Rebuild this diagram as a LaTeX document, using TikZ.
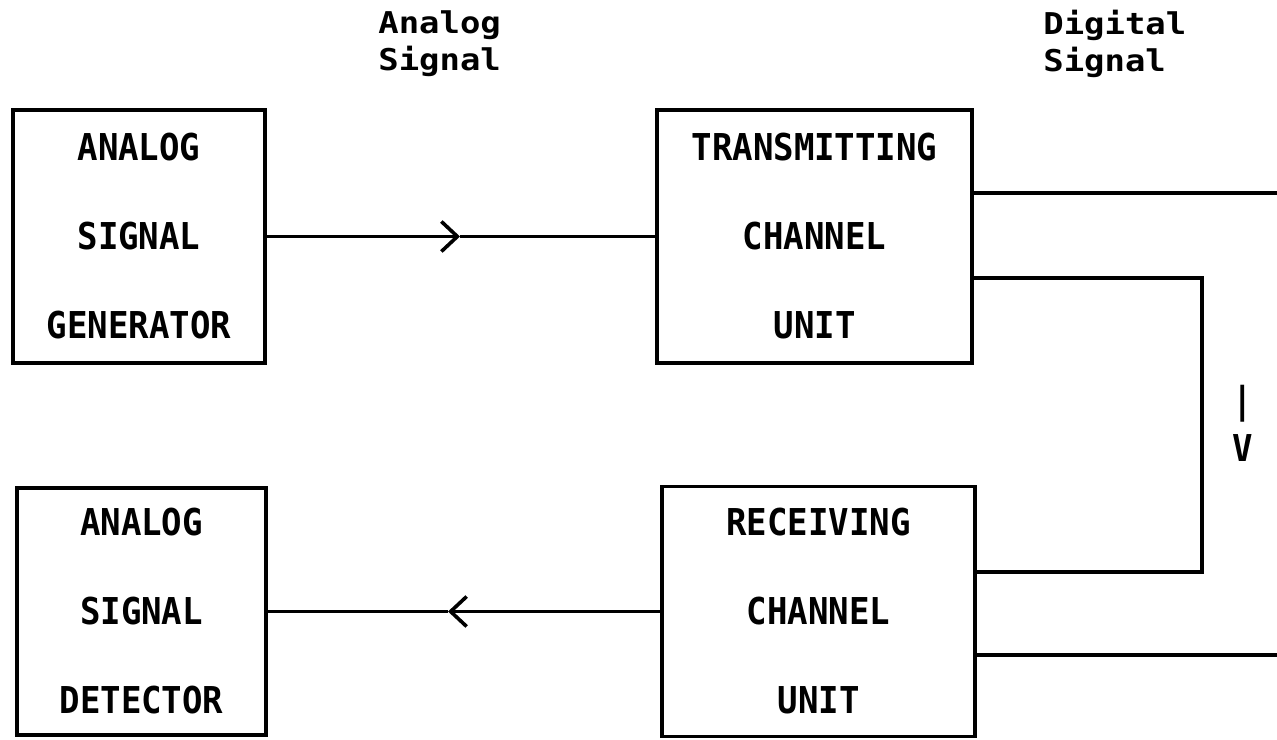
\documentclass[tikz,border=0pt]{standalone}
\usepackage{fontspec}
\usetikzlibrary{arrows.meta}

\newfontfamily\blockfont[FakeStretch=0.92]{DejaVu Sans Mono}
\newfontfamily\tagfont[FakeStretch=1.13]{DejaVu Sans Mono}
\newcommand{\tightlines}{\lineskiplimit -50pt\relax}

\tikzset{
    blockbox/.style={draw, line width=1.8pt, inner sep=0pt, align=center,
        font=\blockfont\bfseries\fontsize{18.5}{44.5}\selectfont},
    wire/.style={line width=1.8pt},
    chevron/.style={-{Straight Barb[length=8pt,width=15pt,line width=1.8pt]}},
    sigtag/.style={align=left, inner sep=0pt,
        font=\tagfont\bfseries\fontsize{15}{18.5}\selectfont},
    downmark/.style={align=center, inner sep=0pt,
        font={\blockfont\bfseries\fontsize{18.5}{24}\selectfont\tightlines}}
}

\begin{document}
\begin{tikzpicture}[x=0.5pt, y=-0.5pt]

    \useasboundingbox (0,0) rectangle (1277,739);

    %Blocks
    \node[blockbox, minimum width=126pt, minimum height=126.5pt] (gen) at (139,236.5) {ANALOG\\SIGNAL\\GENERATOR};
    \node[blockbox, minimum width=157.5pt, minimum height=126.5pt] (trans) at (814.5,236.5) {TRANSMITTING\\CHANNEL\\UNIT};
    \node[blockbox, minimum width=124.5pt, minimum height=123.5pt] (det) at (141.5,611.5) {ANALOG\\SIGNAL\\DETECTOR};
    \node[blockbox, minimum width=156.5pt, minimum height=125pt] (recv) at (818.5,611.5) {RECEIVING\\CHANNEL\\UNIT};

    %Signal labels
    \node[sigtag, anchor=north west] (atag) at (378,10) {Analog\\Signal};
    \node[sigtag, anchor=north west] (dtag) at (1043,10) {Digital\\Signal};
    \node[downmark] (dmark) at (1243,423) {|\\V};

    %Analog links
    \coordinate (ain) at (460,236.5);
    \coordinate (aout) at (448,611.5);
    \draw[wire, chevron] (gen) -- (ain);
    \draw[wire] (ain) -- (trans);
    \draw[wire, chevron] (recv) -- (aout);
    \draw[wire] (aout) -- (det);

    %Digital links
    \coordinate (tout) at (1277,193);
    \coordinate (dtop) at (1202,278);
    \coordinate (dbot) at (1202,572);
    \coordinate (rin) at (1277,655);
    \draw[wire] (trans.east |- tout) -- (tout);
    \draw[wire] (trans.east |- dtop) -- (dtop) -- (dbot) -- (recv.east |- dbot);
    \draw[wire] (recv.east |- rin) -- (rin);

\end{tikzpicture}
\end{document}
